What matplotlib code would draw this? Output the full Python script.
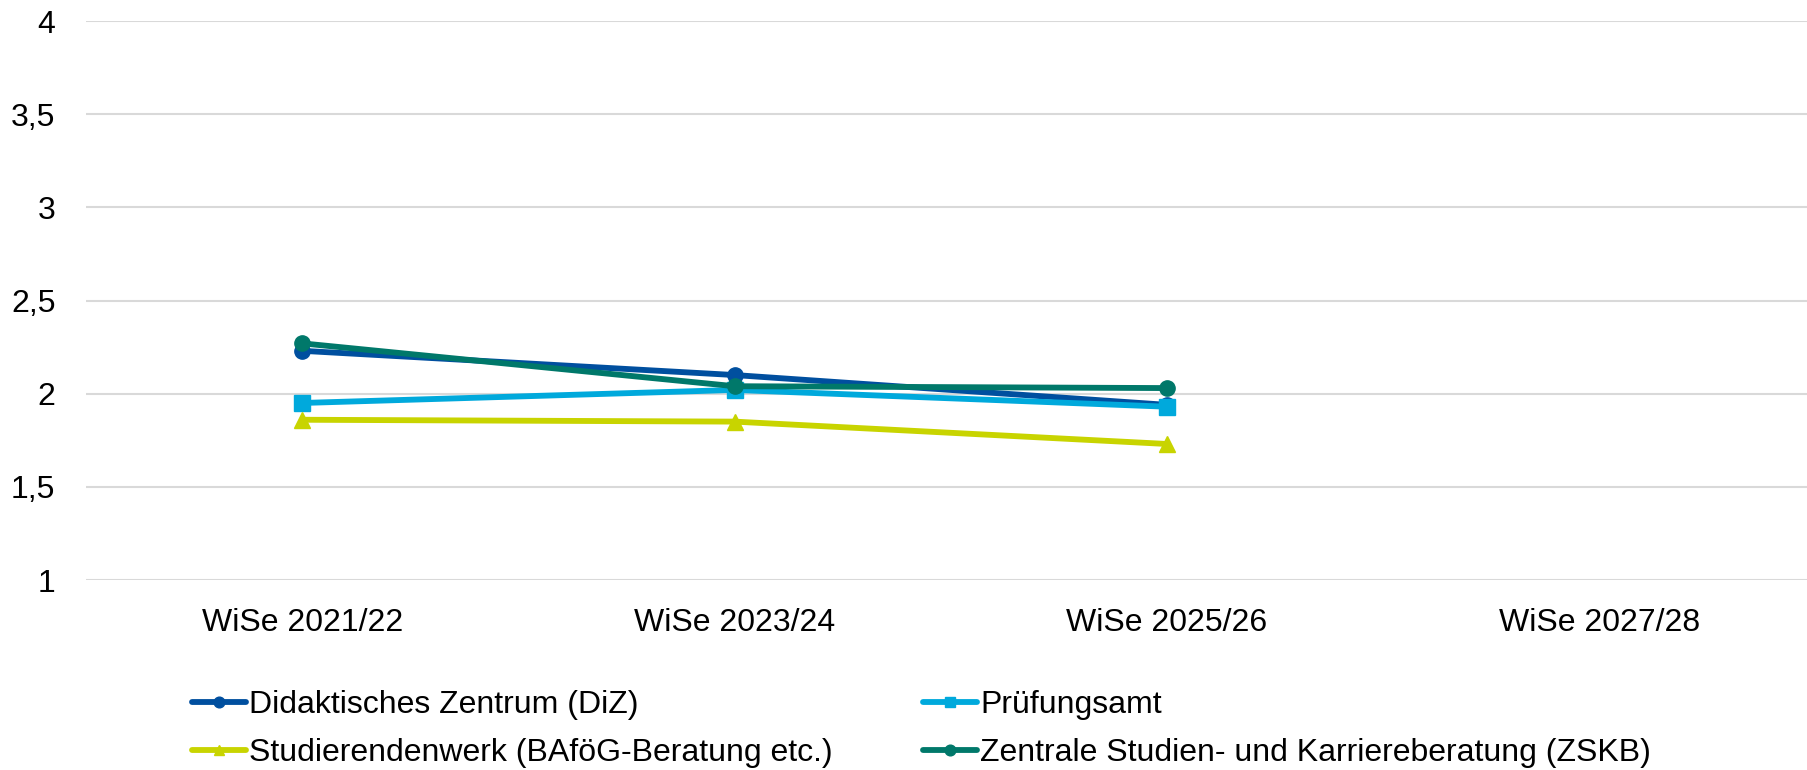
import matplotlib
matplotlib.use("Agg")
import matplotlib.pyplot as plt

categories = ["WiSe 2021/22", "WiSe 2023/24", "WiSe 2025/26", "WiSe 2027/28"]
series_names = ["Didaktisches Zentrum (DiZ)", "Prüfungsamt",
                "Studierendenwerk (BAföG-Beratung etc.)",
                "Zentrale Studien- und Karriereberatung (ZSKB)"]
diz = [2.23, 2.10, 1.94]
pruefungsamt = [1.95, 2.02, 1.93]
studierendenwerk = [1.86, 1.85, 1.73]
zskb = [2.27, 2.04, 2.03]
yticks = [1, 1.5, 2, 2.5, 3, 3.5, 4]
ytick_labels = ["1", "1,5", "2", "2,5", "3", "3,5", "4"]

plt.rcParams['font.family'] = ['Liberation Sans', 'DejaVu Sans']
fig = plt.figure(figsize=(18.08, 7.70), dpi=100)
ax = fig.add_axes([86/1808, 1-580/770, 1-86/1808, (580-21)/770])

colors = ["#004F9F", "#00A9DC", "#C8D400", "#00786A"]
markers = ["o", "s", "^", "o"]
data = [diz, pruefungsamt, studierendenwerk, zskb]
x = list(range(len(categories)))
handles = []
for name, vals, c, m in zip(series_names, data, colors, markers):
    h, = ax.plot(x[:len(vals)], vals, color=c, marker=m, lw=4.2, ms=11,
                 label=name, solid_capstyle='round', clip_on=False)
    handles.append(h)

ax.set_xlim(-0.5, 3.483)
ax.set_ylim(1, 4)
ax.set_xticks(x)
ax.set_xticklabels(categories, fontsize=23)
ax.set_yticks(yticks)
ax.set_yticklabels(ytick_labels, fontsize=23)
ax.tick_params(axis='both', length=0)
ax.tick_params(axis='x', pad=20)
ax.tick_params(axis='y', pad=22)
ax.grid(axis='y', color='#D9D9D9', lw=1.5)
ax.set_axisbelow(True)
for s in ax.spines.values():
    s.set_visible(False)

# legend order: row-wise
order = [0, 2, 1, 3]
leg = fig.legend([handles[i] for i in order], [series_names[i] for i in order],
                 ncol=2, loc='upper left', bbox_to_anchor=(192/1808, 1-690/770),
                 frameon=False, fontsize=23, handlelength=1.7, handletextpad=0.1,
                 columnspacing=2.8, labelspacing=0.56, borderaxespad=0, borderpad=0,
                 markerscale=0.7)

fig.savefig("out.png", dpi=100)
